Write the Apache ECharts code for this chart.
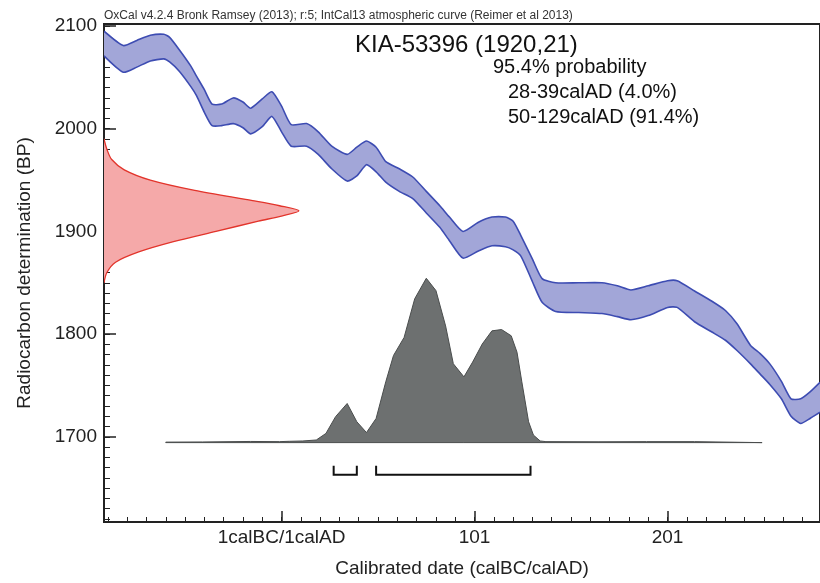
<!DOCTYPE html>
<html><head><meta charset="utf-8">
<script src="https://cdn.jsdelivr.net/npm/echarts@6/dist/echarts.min.js"></script>
<style>html,body{margin:0;padding:0;background:#fff}#c{width:820px;height:583px}</style>
</head><body><div id="c"></div>
<script>
// ---- Calibration curve IntCal13 (calendar year AD; negative = BC) ----
const curveYears = [-91,-81,-74,-67,-60,-57,-52,-46,-43,-39,-35,-30,-24,-19,-15,-9,-4,1,6,14,20,27,35,40,45,50,55,62,69,76,83,88,95,103,110,117,121,125,131,136,143,155,167,175,182,191,201,206,215,224,231,237,244,249,254,260,265,270,275,280];
const curveUpper = [2095,2081,2086,2091,2092,2089,2077,2061,2051,2038,2024,2024,2030,2026,2020,2029,2036,2022,2004,2005,1997,1983,1975,1982,1988,1982,1968,1961,1953,1939,1925,1914,1900,1909,1914,1914,1910,1896,1873,1854,1850,1850,1850,1847,1843,1847,1852,1852,1842,1832,1823,1810,1789,1781,1771,1754,1737,1737,1744,1753];
const curveLower = [2071,2055,2060,2066,2068,2065,2056,2041,2032,2016,2003,2003,2005,2001,1995,2002,2012,1997,1983,1983,1975,1961,1949,1954,1965,1958,1948,1939,1932,1918,1904,1891,1874,1881,1886,1885,1882,1876,1851,1831,1822,1821,1820,1817,1814,1818,1826,1826,1812,1802,1794,1784,1771,1761,1751,1737,1720,1713,1718,1724];

const measBP   = [1990,1980,1970,1960,1950,1940,1930,1925,1920,1915,1910,1900,1890,1880,1870,1860,1850];
const measYear = [-91,-89.5,-87,-80.5,-67,-44,-14,0,10,1,-11,-33,-55,-73,-85,-89.5,-91];

// ---- Calibrated probability (relative, peak = 100) ----
const postYears = [-59,-40,-15,0,5,12,19,24,29,35,40,45,50,55,59,64.5,70,76,81,86,90,95.5,100,105,110,115,120,123,125.5,129,131.5,135,138,165,190,215,250];
const postProb  = [0.3,0.4,0.7,0.6,0.8,1,1.6,5.6,15.8,23.8,12.7,6.1,14.7,37,53,64,87.5,100,92.5,71,48,40,49,60,68,68.8,65,55,37,12.7,4.6,1,0.6,0.5,0.6,0.6,0];

// ---- 95.4% ranges ----
const rangeFrom = [28, 50];
const rangeTo   = [39, 129];

// ---- Axis ticks ----
const xTickValues = [1, 101, 201];
const xTickLabels = ['1calBC/1calAD', '101', '201'];
const yTickValues = [1700, 1800, 1900, 2000, 2100];

// ---- Texts ----
const headerText = 'OxCal v4.2.4 Bronk Ramsey (2013); r:5; IntCal13 atmospheric curve (Reimer et al 2013)';
const sampleText = 'KIA-53396 (1920,21)';
const probText = '95.4% probability';
const rangeTexts = ['28-39calAD (4.0%)', '50-129calAD (91.4%)'];

const xMinor = []; for (let v = -89; v <= 280; v += 10) xMinor.push(v);
const yMinor = []; for (let v = 1620; v <= 2100; v += 10) yMinor.push(v);

const FONT = '"Liberation Sans", Arial, Helvetica, sans-serif';
const INK = '#222';

function clipRect(params) {
  const c = params.coordSys;
  return { type: 'rect', shape: { x: c.x, y: c.y, width: c.width, height: c.height } };
}

const chart = echarts.init(document.getElementById('c'), null, { renderer: 'canvas' });
chart.setOption({
  animation: false,
  backgroundColor: '#fff',
  textStyle: { fontFamily: FONT },
  grid: { left: 104, right: -2, top: 24, bottom: 59, show: true, borderColor: INK, borderWidth: 2, backgroundColor: 'transparent' },
  xAxis: [
    { type: 'value', min: -91, max: 280, position: 'bottom',
      axisLine: { show: true, onZero: false, lineStyle: { color: INK, width: 2 } },
      axisTick: { show: true, inside: true, length: 5, customValues: xMinor, lineStyle: { color: INK, width: 1 } },
      axisLabel: { customValues: xTickValues, color: INK, fontSize: 19, margin: 6, fontFamily: FONT,
        formatter: v => xTickLabels[xTickValues.indexOf(v)] },
      splitLine: { show: false },
      name: 'Calibrated date (calBC/calAD)', nameLocation: 'middle', nameGap: 37,
      nameTextStyle: { color: INK, fontSize: 19, fontFamily: FONT } },
    { type: 'value', min: -91, max: 280, position: 'bottom',
      axisLine: { show: false, onZero: false },
      axisTick: { show: true, inside: true, length: 11, customValues: xTickValues, lineStyle: { color: INK, width: 1.5 } },
      axisLabel: { show: false }, splitLine: { show: false } }
  ],
  yAxis: [
    { type: 'value', min: 1617, max: 2102, position: 'left',
      axisLine: { show: true, onZero: false, lineStyle: { color: INK, width: 2 } },
      axisTick: { show: true, inside: true, length: 6, customValues: yMinor, lineStyle: { color: INK, width: 1 } },
      axisLabel: { customValues: yTickValues, color: INK, fontSize: 19, margin: 7, fontFamily: FONT,
        formatter: v => String(v) },
      splitLine: { show: false },
      name: 'Radiocarbon determination (BP)', nameLocation: 'middle', nameGap: 70, nameRotate: 90,
      nameTextStyle: { color: INK, fontSize: 19, fontFamily: FONT } },
    { type: 'value', min: 1617, max: 2102, position: 'left',
      axisLine: { show: false, onZero: false },
      axisTick: { show: true, inside: true, length: 12, customValues: yTickValues, lineStyle: { color: INK, width: 1.5 } },
      axisLabel: { show: false }, splitLine: { show: false } },
    { type: 'value', min: -48.3, max: 254.7, show: false }
  ],
  series: [
    { // calibration curve band
      type: 'custom', xAxisIndex: 0, yAxisIndex: 0, data: [0], silent: true, z: 2,
      renderItem: (params, api) => {
        const up = curveYears.map((x, i) => api.coord([x, curveUpper[i]]));
        const lo = curveYears.map((x, i) => api.coord([x, curveLower[i]]));
        const poly = up.concat(lo.slice().reverse());
        return { type: 'group', clipPath: clipRect(params), children: [
          { type: 'polygon', shape: { points: poly, smooth: 0.2 }, style: { fill: '#a2a6d8', stroke: null } },
          { type: 'polyline', shape: { points: up, smooth: 0.2 }, style: { fill: null, stroke: '#3d4cb2', lineWidth: 1.6 } },
          { type: 'polyline', shape: { points: lo, smooth: 0.2 }, style: { fill: null, stroke: '#3d4cb2', lineWidth: 1.6 } }
        ]};
      }
    },
    { // measurement distribution
      type: 'custom', xAxisIndex: 0, yAxisIndex: 0, data: [0], silent: true, z: 3,
      renderItem: (params, api) => {
        const pts = measBP.map((b, i) => api.coord([measYear[i], b]));
        return { type: 'group', clipPath: clipRect(params), children: [
          { type: 'polygon', shape: { points: pts, smooth: 0.3 }, style: { fill: '#f5a9a9', stroke: null } },
          { type: 'polyline', shape: { points: pts, smooth: 0.3 }, style: { fill: null, stroke: '#e2342b', lineWidth: 1.3 } }
        ]};
      }
    },
    { // calibrated probability
      type: 'custom', xAxisIndex: 0, yAxisIndex: 2, data: [0], silent: true, z: 3,
      renderItem: (params, api) => {
        const pts = postYears.map((x, i) => api.coord([x, postProb[i]]));
        const poly = [api.coord([postYears[0], 0])].concat(pts, [api.coord([postYears[postYears.length - 1], 0])]);
        return { type: 'group', clipPath: clipRect(params), children: [
          { type: 'polygon', shape: { points: poly }, style: { fill: '#6d7070', stroke: '#4a4d4d', lineWidth: 1 } }
        ]};
      }
    },
    { // range brackets
      type: 'custom', xAxisIndex: 0, yAxisIndex: 0, data: rangeFrom.map((f, i) => [f, rangeTo[i]]), silent: true, z: 4,
      renderItem: (params, api) => {
        const a = api.coord([api.value(0), 1663]);
        const b = api.coord([api.value(1) + 1, 1663]);
        const h = 9;
        return { type: 'polyline', shape: { points: [[a[0], a[1] - h], a, b, [b[0], b[1] - h]] },
          style: { fill: null, stroke: '#111', lineWidth: 2 } };
      }
    }
  ],
  graphic: [
    { type: 'text', x: 104, y: 16, style: { text: headerText, font: '12px ' + FONT, fill: '#333', verticalAlign: 'middle' } },
    { type: 'text', x: 355, y: 45, style: { text: sampleText, font: '24px ' + FONT, fill: '#111', verticalAlign: 'middle' } },
    { type: 'text', x: 493, y: 67, style: { text: probText, font: '20px ' + FONT, fill: '#111', verticalAlign: 'middle' } },
    { type: 'text', x: 508, y: 92, style: { text: rangeTexts[0], font: '20px ' + FONT, fill: '#111', verticalAlign: 'middle' } },
    { type: 'text', x: 508, y: 117, style: { text: rangeTexts[1], font: '20px ' + FONT, fill: '#111', verticalAlign: 'middle' } }
  ]
});
</script></body></html>
